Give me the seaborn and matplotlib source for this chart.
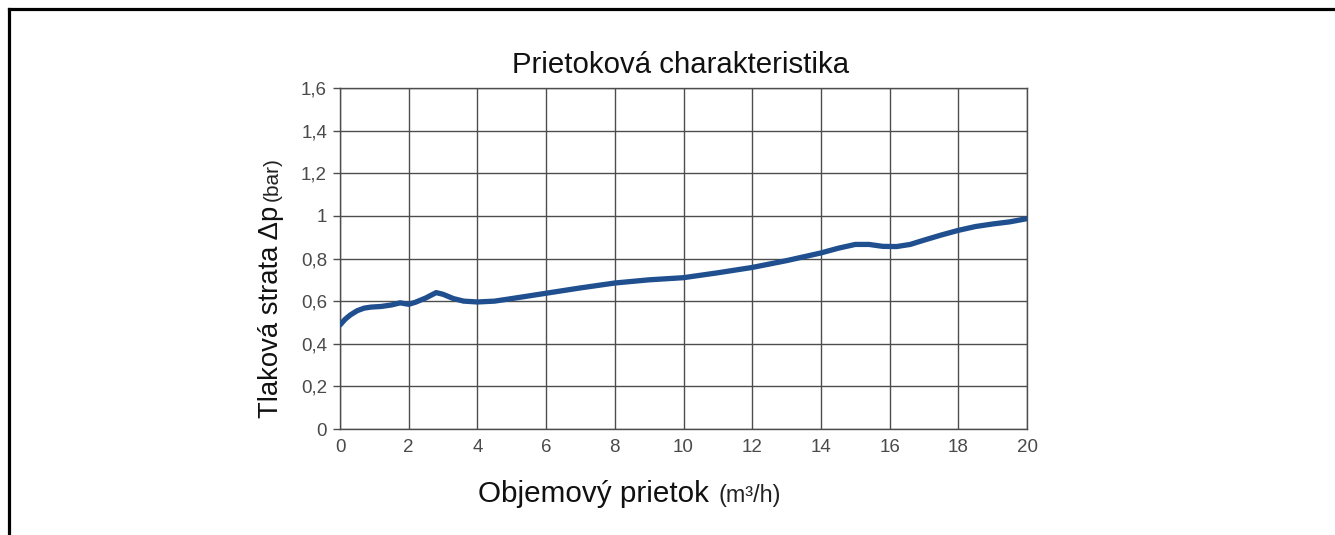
import matplotlib
matplotlib.use("Agg")
import matplotlib.pyplot as plt
import seaborn as sns
import pandas as pd
from matplotlib.lines import Line2D

# ---- data ----
flow = [0, 0.15, 0.3, 0.5, 0.7, 0.9, 1.2, 1.5, 1.75, 2.0, 2.2, 2.5, 2.8, 3.0,
        3.3, 3.6, 4.0, 4.5, 5, 6, 7, 8, 9, 10, 11, 12, 13, 14, 14.5, 15,
        15.4, 15.8, 16.2, 16.6, 17, 17.5, 18, 18.5, 19, 19.5, 20]
dp = [0.488, 0.515, 0.535, 0.555, 0.567, 0.572, 0.575, 0.582, 0.592, 0.585,
      0.595, 0.615, 0.640, 0.632, 0.612, 0.600, 0.596, 0.600, 0.612, 0.637,
      0.662, 0.685, 0.700, 0.710, 0.733, 0.758, 0.790, 0.826, 0.848, 0.866,
      0.866, 0.857, 0.856, 0.866, 0.886, 0.910, 0.932, 0.950, 0.962, 0.972,
      0.987]
x_ticks = [0, 2, 4, 6, 8, 10, 12, 14, 16, 18, 20]
x_tick_labels = ["0", "2", "4", "6", "8", "10", "12", "14", "16", "18", "20"]
y_ticks = [0, 0.2, 0.4, 0.6, 0.8, 1.0, 1.2, 1.4, 1.6]
y_tick_labels = ["0", "0,2", "0,4", "0,6", "0,8", "1", "1,2", "1,4", "1,6"]

title = "Prietoková charakteristika"
xlabel_main, xlabel_unit = "Objemový prietok", "(m³/h)"
ylabel_main, ylabel_unit = "Tlaková strata Δp", "(bar)"

df = pd.DataFrame({"flow": flow, "dp": dp})

sns.set_theme(style="white")
plt.rcParams["font.family"] = ["Liberation Sans", "DejaVu Sans"]

W, H = 1335, 535
fig = plt.figure(figsize=(W / 100, H / 100), dpi=100)
fig.patch.set_facecolor("white")

def fx(px):
    return px / W

def fy(py):
    return 1 - py / H

ax = fig.add_axes([fx(340), fy(429), fx(1027) - fx(340), fy(88) - fy(429)])
ax.set_facecolor("white")

grid_c = "#4d4d4d"
sns.lineplot(data=df, x="flow", y="dp", ax=ax, color="#1f4f8f", lw=3.8,
             solid_capstyle="round", solid_joinstyle="round", zorder=5)

ax.set_xlim(0, 20)
ax.set_ylim(0, 1.6)
ax.set_xticks(x_ticks)
ax.set_xticklabels(x_tick_labels)
ax.set_yticks(y_ticks)
ax.set_yticklabels(y_tick_labels)
ax.grid(True, color=grid_c, lw=1.0)
for s in ax.spines.values():
    s.set_color(grid_c)
    s.set_linewidth(1.0)
    s.set_visible(True)
ax.tick_params(axis="y", length=5, width=1.0, color=grid_c, pad=4.3,
               labelsize=13.5, labelcolor="#4a4a4a", left=True)
ax.tick_params(axis="x", length=0, pad=7, labelsize=13.5, labelcolor="#4a4a4a")
ax.set_xlabel("")
ax.set_ylabel("")

# title
fig.text(fx(681), fy(73), title, ha="center", va="baseline",
         fontsize=21.2, color="#111111")

# x label (mixed sizes)
fig.text(fx(478), fy(502), xlabel_main, ha="left", va="baseline",
         fontsize=21.3, color="#111111")
fig.text(fx(719), fy(502), xlabel_unit, ha="left", va="baseline",
         fontsize=16.8, color="#222222")

# y label (mixed sizes, rotated)
fig.text(fx(278), fy(418), ylabel_main, ha="left", va="baseline",
         rotation=90, rotation_mode="anchor", fontsize=19.8, color="#111111")
fig.text(fx(278), fy(201), ylabel_unit, ha="left", va="baseline",
         rotation=90, rotation_mode="anchor", fontsize=15, color="#222222")

# outer frame (top and left edges visible)
fig.add_artist(Line2D([fx(8.5), 1.0], [fy(8.5), fy(8.5)],
                      transform=fig.transFigure, color="black", lw=2.3,
                      solid_capstyle="projecting"))
fig.add_artist(Line2D([fx(8.5), fx(8.5)], [fy(8.5), 0.0],
                      transform=fig.transFigure, color="black", lw=2.3,
                      solid_capstyle="projecting"))

fig.savefig("out.png", dpi=100, facecolor="white")
